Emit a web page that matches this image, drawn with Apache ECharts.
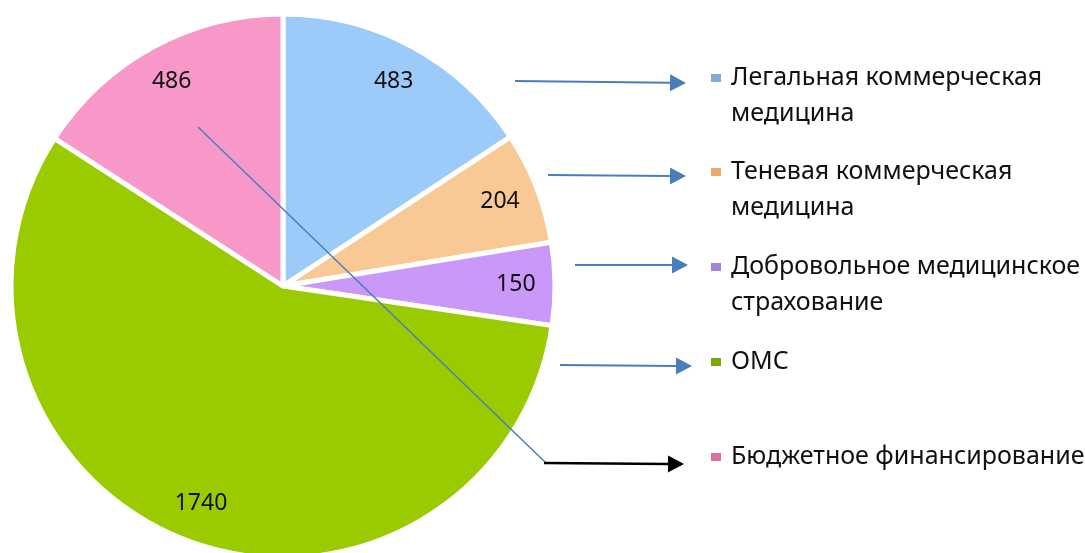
<!DOCTYPE html>
<html>
<head>
<meta charset="utf-8">
<script src="https://cdn.jsdelivr.net/npm/echarts@6/dist/echarts.min.js"></script>
<style>
  html, body { margin: 0; padding: 0; background: #fff; }
  #chart { width: 1085px; height: 553px; }
</style>
</head>
<body>
<div id="chart"></div>
<script>
// data
const categories = [
    'Легальная коммерческая\nмедицина',
    'Теневая коммерческая\nмедицина',
    'Добровольное медицинское\nстрахование',
    'ОМС',
    'Бюджетное финансирование'
];
const values = [483, 204, 150, 1740, 486];
const sliceColors = ['#9ccbfa', '#f9c995', '#c998f9', '#99cb00', '#f898c8'];
const legendColors = ['#84a9de', '#eca96e', '#a083da', '#7aa800', '#dc72a2'];

const FONT = '"Noto Sans", "DejaVu Sans", sans-serif';
const CX = 283, CY = 286, R = 272;

// helper for the annotation arrows
const arrow = (x1, y1, x2, y2, color, width, head) => {
    const a = Math.atan2(y2 - y1, x2 - x1);
    const len = head ? 16 : 0;
    const bx = x2 - len * Math.cos(a), by = y2 - len * Math.sin(a);
    const els = [{
        type: 'line',
        shape: { x1: x1, y1: y1, x2: bx, y2: by },
        style: { stroke: color, lineWidth: width },
        z: 100
    }];
    if (head) {
        const w = 8.5;
        els.push({
            type: 'polygon',
            shape: {
                points: [
                    [x2, y2],
                    [bx - w * Math.sin(a), by + w * Math.cos(a)],
                    [bx + w * Math.sin(a), by - w * Math.cos(a)]
                ]
            },
            style: { fill: color },
            z: 100
        });
    }
    return els;
};

// legend built by hand so the marker sits on the first text line
const legendTops = [78, 172, 267, 362, 457];
const legendEls = [];
categories.forEach((name, i) => {
    legendEls.push({
        type: 'rect',
        shape: { x: 711, y: legendTops[i] - 4, width: 10, height: 8 },
        style: { fill: legendColors[i] }
    });
    legendEls.push({
        type: 'text',
        x: 731,
        y: legendTops[i] - 18,
        style: {
            text: name,
            font: '25px ' + FONT,
            fill: '#111',
            lineHeight: 36
        }
    });
});

const blue = '#4a7ebb';
const arrowEls = [].concat(
    arrow(515, 81, 686, 83, blue, 2, true),
    arrow(548, 175, 686, 176, blue, 2, true),
    arrow(575, 265, 688, 265, blue, 2, true),
    arrow(560, 365, 692, 366, blue, 2, true),
    arrow(198, 127, 546, 463, blue, 1.5, false),
    arrow(544, 463, 684, 464, '#000', 2.5, true)
);

const pieData = categories.map((c, i) => ({
    name: c,
    value: values[i],
    itemStyle: { color: sliceColors[i] }
}));

const chart = echarts.init(document.getElementById('chart'));
chart.setOption({
    backgroundColor: '#fff',
    animation: false,
    series: [
        {
            type: 'pie',
            center: [CX, CY],
            radius: [0, R],
            startAngle: 90,
            clockwise: true,
            silent: true,
            label: { show: false },
            labelLine: { show: false },
            itemStyle: { borderColor: '#fff', borderWidth: 5 },
            data: pieData
        },
        {
            // transparent ring only used to put the value labels near the rim
            type: 'pie',
            center: [CX, CY],
            radius: [R * 0.69, R],
            startAngle: 90,
            clockwise: true,
            silent: true,
            itemStyle: { color: 'rgba(0,0,0,0)', borderWidth: 0 },
            label: {
                show: true,
                position: 'inside',
                formatter: '{c}',
                fontFamily: FONT,
                fontSize: 23,
                color: '#111'
            },
            labelLine: { show: false },
            data: categories.map((c, i) => ({ name: c, value: values[i] }))
        }
    ],
    graphic: legendEls.concat(arrowEls)
});
</script>
</body>
</html>
